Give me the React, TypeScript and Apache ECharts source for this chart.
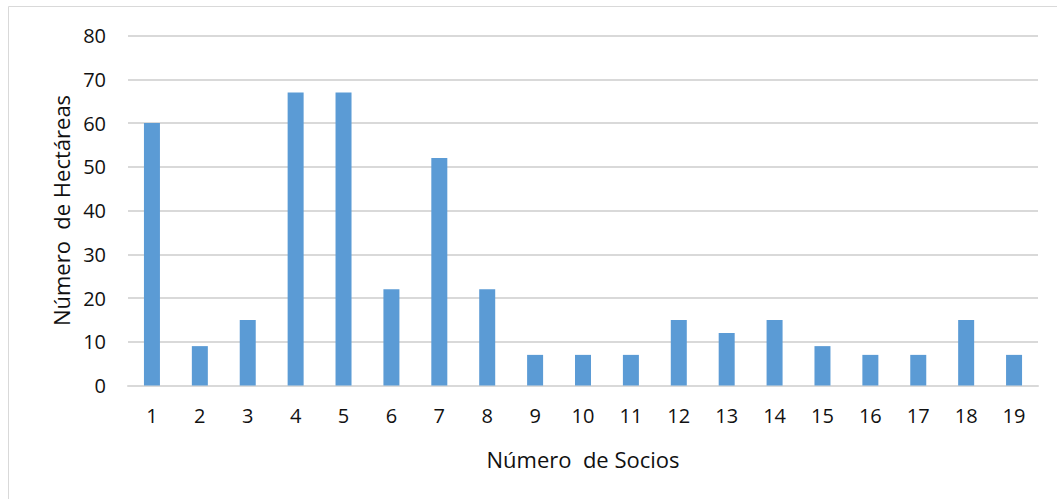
import React, { useEffect, useRef } from "react";
import * as echarts from "echarts";

const categories = ["1","2","3","4","5","6","7","8","9","10","11","12","13","14","15","16","17","18","19"];
const hectareas = [60, 9, 15, 67, 67, 22, 52, 22, 7, 7, 7, 15, 12, 15, 9, 7, 7, 15, 7];
const yTicks = { min: 0, max: 80, interval: 10 };

export default function App() {
  const ref = useRef<HTMLDivElement>(null);
  useEffect(() => {
    document.body.style.margin = "0";
    const chart = echarts.init(ref.current!, null, { renderer: "svg" });
    const font = "'Open Sans', 'Liberation Sans', sans-serif";
    chart.setOption({
      animation: false,
      backgroundColor: "#ffffff",
      textStyle: { fontFamily: font },
      graphic: [
        {
          type: "rect",
          shape: { x: 8.5, y: 6.5, width: 1060, height: 520 },
          style: { fill: "none", stroke: "#d9d9d9", lineWidth: 1 },
          silent: true,
        },
      ],
      grid: { left: 128, right: 19, top: 35.5, bottom: 113.5 },
      xAxis: {
        type: "category",
        data: categories,
        name: "Número  de Socios",
        nameLocation: "middle",
        nameGap: 62,
        nameTextStyle: { fontSize: 22, color: "#111111", fontFamily: font },
        axisLine: { show: true, lineStyle: { color: "#d9d9d9", width: 2 } },
        axisTick: { show: false },
        axisLabel: { fontSize: 20, color: "#111111", margin: 20, fontFamily: font },
      },
      yAxis: {
        type: "value",
        min: yTicks.min,
        max: yTicks.max,
        interval: yTicks.interval,
        name: "Número  de Hectáreas",
        nameLocation: "middle",
        nameGap: 56,
        nameTextStyle: { fontSize: 22, color: "#111111", fontFamily: font },
        axisLine: { show: false },
        axisTick: { show: false },
        axisLabel: { fontSize: 20, color: "#111111", margin: 22, fontFamily: font },
        splitLine: { lineStyle: { color: "#d9d9d9", width: 2 } },
      },
      series: [
        {
          type: "bar",
          data: hectareas,
          barWidth: 16,
          itemStyle: { color: "#5b9bd5" },
        },
      ],
    });
    return () => chart.dispose();
  }, []);
  return <div ref={ref} style={{ width: 1057, height: 499 }} />;
}
